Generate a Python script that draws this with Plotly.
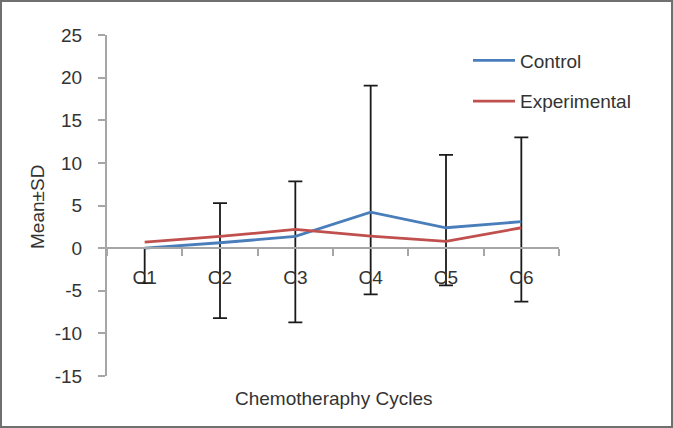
import plotly.graph_objects as go

cycles = ["C1", "C2", "C3", "C4", "C5", "C6"]
control = [0.0, 0.63, 1.37, 4.22, 2.39, 3.1]
experimental = [0.7, 1.37, 2.19, 1.41, 0.79, 2.39]
err_plus = [0.0, 4.65, 6.45, 14.85, 8.56, 9.88]
err_minus = [4.1, 8.83, 10.08, 9.65, 6.76, 9.38]
y_ticks = [-15, -10, -5, 0, 5, 10, 15, 20, 25]
y_tick_labels = ["-15", "-10", "-5", "0", "5", "10", "15", "20", "25"]

W, H = 673, 428
L, R, T, B = 107, 114, 35, 52
pw, ph = W - L - R, H - T - B
FONT = "Liberation Sans, Arial, sans-serif"
FS = 19
TXT = "#333333"
AX = "#a6a6a6"

fig = go.Figure()
fig.add_trace(go.Scatter(
    x=cycles, y=control, name="Control", mode="lines",
    line=dict(color="#4a7ebb", width=2.8),
    error_y=dict(type="data", symmetric=False, array=err_plus, arrayminus=err_minus,
                 color="#1a1a1a", thickness=1.8, width=7),
    legendgroup="a",
))
fig.add_trace(go.Scatter(
    x=cycles, y=experimental, name="Experimental", mode="lines",
    line=dict(color="#c0504d", width=2.8),
    legendgroup="b",
))

def px_x(p):
    return (p - L) / pw

def px_y(p):
    return (H - B - p) / ph

fig.update_layout(
    width=W, height=H,
    margin=dict(l=L, r=R, t=T, b=B),
    paper_bgcolor="white", plot_bgcolor="white",
    font=dict(family=FONT, size=FS, color=TXT),
    showlegend=True,
    legend=dict(x=px_x(468), y=px_y(41.5), xanchor="left", yanchor="top",
                bgcolor="rgba(0,0,0,0)", font=dict(size=FS, color=TXT),
                traceorder="grouped", tracegroupgap=13, itemwidth=42),
    xaxis=dict(
        type="category", range=[-0.5, 5.5],
        showline=True, linecolor=AX, linewidth=2,
        ticks="outside", ticklen=7, tickcolor=AX, tickwidth=2,
        tickson="boundaries", showgrid=False, zeroline=False,
        anchor="free", position=px_y(247.7),
        ticklabelstandoff=12,
        tickfont=dict(size=FS, color=TXT),
    ),
    yaxis=dict(
        range=[-15, 25], tickvals=y_ticks, ticktext=y_tick_labels,
        showline=True, linecolor=AX, linewidth=2,
        ticks="outside", ticklen=7, tickcolor=AX, tickwidth=2,
        showgrid=False, zeroline=False,
        ticklabelstandoff=12,
        tickfont=dict(size=FS, color=TXT),
    ),
    annotations=[
        dict(text="Chemotheraphy Cycles", xref="paper", yref="paper",
             x=0.5, y=px_y(398), xanchor="center", yanchor="middle",
             showarrow=False, font=dict(size=FS, color=TXT)),
        dict(text="Mean±SD", xref="paper", yref="paper",
             x=px_x(37), y=px_y(207), xanchor="center", yanchor="middle",
             textangle=-90, showarrow=False, font=dict(size=FS, color=TXT)),
    ],
    shapes=[
        dict(type="rect", xref="paper", yref="paper",
             x0=px_x(1), x1=px_x(672), y0=px_y(427), y1=px_y(1),
             line=dict(color="#707070", width=2), fillcolor="rgba(0,0,0,0)"),
    ],
)

fig.write_html("out.html", config={"displayModeBar": False},
               post_script="document.body.style.margin='0';document.body.style.overflow='hidden';")
